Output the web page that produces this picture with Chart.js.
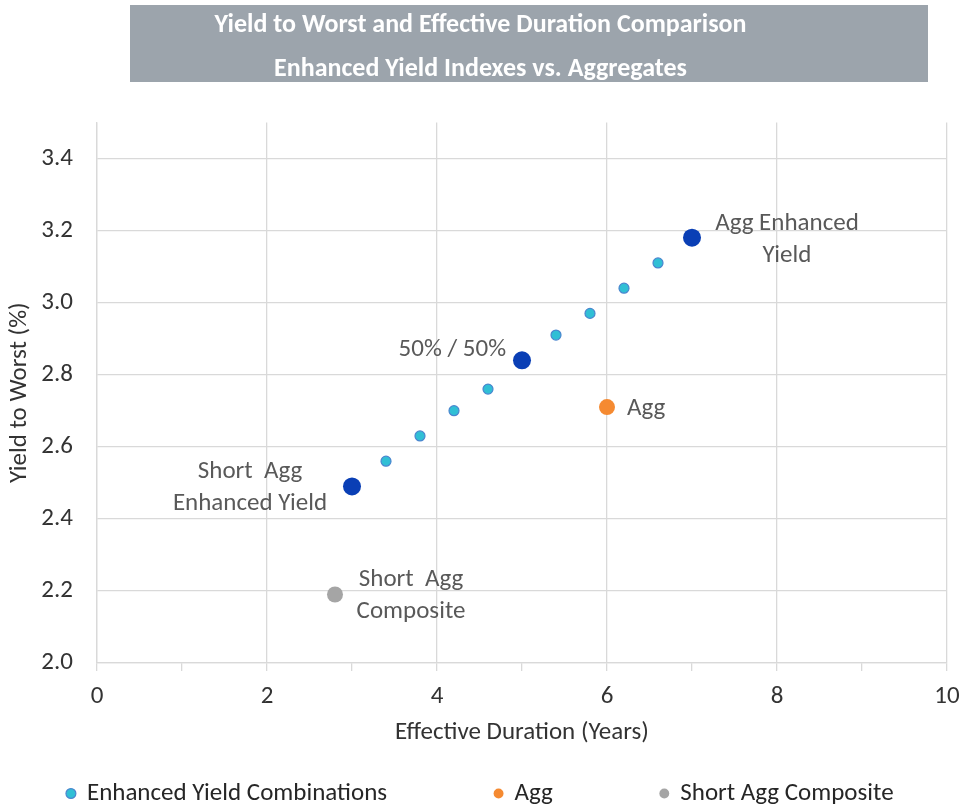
<!DOCTYPE html>
<html>
<head>
<meta charset="utf-8">
<script src="https://cdn.jsdelivr.net/npm/chart.js@4/dist/chart.umd.min.js"></script>
<style>
  html, body { margin: 0; padding: 0; background: #ffffff; }
  #wrap { width: 961px; height: 807px; position: relative; }
</style>
</head>
<body>
<div id="wrap"><canvas id="c" width="961" height="807"></canvas></div>
<script>
// ---- data ----
const comboX = [3.4, 3.8, 4.2, 4.6, 5.4, 5.8, 6.2, 6.6];
const comboY = [2.56, 2.63, 2.70, 2.76, 2.91, 2.97, 3.04, 3.11];
const indexX = [3.0, 5.0, 7.0];
const indexY = [2.49, 2.84, 3.18];
const indexLabels = [["Short  Agg", "Enhanced Yield"], ["50% / 50%"], ["Agg Enhanced", "Yield"]];
const aggX = [6.0];
const aggY = [2.71];
const aggLabels = [["Agg"]];
const shortX = [2.8];
const shortY = [2.19];
const shortLabels = [["Short  Agg", "Composite"]];
const seriesNames = ["Enhanced Yield Combinations", "Agg", "Short Agg Composite", "Enhanced Yield Indexes"];
const titleLines = ["Yield to Worst and Effective Duration Comparison", "Enhanced Yield Indexes vs. Aggregates"];
const xTitle = "Effective Duration (Years)";
const yTitle = "Yield to Worst (%)";
const yTickValues = [2.0, 2.2, 2.4, 2.6, 2.8, 3.0, 3.2, 3.4];

const FONT = "Carlito, Lato, 'Open Sans', sans-serif";
const toPts = (xs, ys) => xs.map((x, i) => ({ x: x, y: ys[i] }));

// label placement (style): offsets relative to point, per dataset index
const labelStyle = {
  1: [{ dx: 20, dy: 2, align: 'left' }],
  2: [{ dx: 76, dy: -15, align: 'center' }],
  3: [{ dx: -102, dy: -15, align: 'center' }, { dx: -16, dy: -11, align: 'right' }, { dx: 95, dy: -14, align: 'center' }]
};
const labelText = { 1: aggLabels, 2: shortLabels, 3: indexLabels };
const legendGap = '\u2003\u2003\u2003\u2003';

const titleBox = {
  id: 'titleBox',
  beforeDraw(chart) {
    const ctx = chart.ctx;
    ctx.save();
    ctx.fillStyle = '#9ca4ac';
    ctx.fillRect(130, 5, 798, 77);
    ctx.restore();
  }
};

const legendShift = {
  id: 'legendShift',
  afterLayout(chart) {
    if (chart.legend) { chart.legend.top += 9; chart.legend.bottom += 9; }
  }
};

const pointLabels = {
  id: 'pointLabels',
  afterDatasetsDraw(chart) {
    const ctx = chart.ctx;
    ctx.save();
    ctx.font = "25px " + FONT;
    ctx.fillStyle = '#595959';
    ctx.textBaseline = 'middle';
    Object.keys(labelText).forEach(k => {
      const di = +k;
      const meta = chart.getDatasetMeta(di);
      labelText[k].forEach((lines, i) => {
        const el = meta.data[i];
        const st = labelStyle[k][i];
        ctx.textAlign = st.align;
        lines.forEach((ln, j) => {
          ctx.fillText(ln, el.x + st.dx, el.y + st.dy + j * 32);
        });
      });
    });
    ctx.restore();
  }
};

new Chart(document.getElementById('c'), {
  type: 'scatter',
  data: {
    datasets: [
      {
        label: seriesNames[0], data: toPts(comboX, comboY),
        backgroundColor: '#30bfd5', borderColor: '#4a86cf', borderWidth: 1.2,
        pointRadius: 5, pointHoverRadius: 5
      },
      {
        label: seriesNames[1], data: toPts(aggX, aggY),
        backgroundColor: '#f58a31', borderColor: '#f58a31', borderWidth: 0,
        pointRadius: 8, pointHoverRadius: 8
      },
      {
        label: seriesNames[2], data: toPts(shortX, shortY),
        backgroundColor: '#a5a5a5', borderColor: '#a5a5a5', borderWidth: 0,
        pointRadius: 8, pointHoverRadius: 8
      },
      {
        label: seriesNames[3], data: toPts(indexX, indexY),
        backgroundColor: '#0a3fb5', borderColor: '#0a3fb5', borderWidth: 0,
        pointRadius: 9, pointHoverRadius: 9
      }
    ]
  },
  options: {
    responsive: false,
    animation: false,
    events: [],
    layout: { padding: { left: 0, right: 0, top: 0, bottom: 0 } },
    plugins: {
      title: {
        display: true,
        text: titleLines,
        color: '#ffffff',
        font: { family: FONT, size: 26, weight: 'bold', lineHeight: 1.7 },
        padding: { top: 3, bottom: 31 }
      },
      legend: {
        display: true,
        position: 'bottom',
        labels: {
          usePointStyle: true,
          pointStyle: 'circle',
          boxWidth: 7,
          boxHeight: 7,
          padding: 8,
          color: '#262626',
          font: { family: FONT, size: 25 },
          filter: (item) => item.datasetIndex !== 3,
          generateLabels: (chart) => {
            const items = Chart.defaults.plugins.legend.labels.generateLabels(chart);
            return items.map((it, i) => {
              if (i < 2) it.text = it.text + legendGap;
              return it;
            });
          }
        }
      },
      tooltip: { enabled: false }
    },
    scales: {
      x: {
        type: 'linear',
        min: 0, max: 10,
        afterFit(scale) { scale.height = 101; scale.paddingRight = 14; scale.paddingLeft = 0; },
        ticks: {
          stepSize: 1,
          autoSkip: false,
          maxRotation: 0,
          color: '#333333',
          font: { family: FONT, size: 25 },
          padding: 11,
          callback: (v) => (v % 2 === 0 ? String(v) : '')
        },
        grid: {
          color: (c) => (c.tick && c.tick.value % 2 === 0 ? '#d9d9d9' : 'rgba(0,0,0,0)'),
          tickColor: '#d9d9d9',
          tickLength: 8,
          lineWidth: 1.3
        },
        border: { color: '#d9d9d9', width: 1.3 },
        title: {
          display: true, text: xTitle, color: '#333333',
          font: { family: FONT, size: 25 },
          padding: { top: 0, bottom: 16 }
        }
      },
      y: {
        type: 'linear',
        min: 2.0, max: 3.5,
        afterFit(scale) { scale.width = 97; },
        afterBuildTicks(scale) { scale.ticks = yTickValues.map(v => ({ value: v })); },
        ticks: {
          color: '#333333',
          font: { family: FONT, size: 25 },
          padding: 24,
          callback: (v) => Number(v).toFixed(1)
        },
        grid: { color: '#d9d9d9', drawTicks: false, lineWidth: 1.3 },
        border: { color: '#d9d9d9', width: 1.3 },
        title: {
          display: true, text: yTitle, color: '#333333',
          font: { family: FONT, size: 25 },
          padding: { top: 5, bottom: 0 }
        }
      }
    }
  },
  plugins: [titleBox, legendShift, pointLabels]
});
</script>
</body>
</html>
